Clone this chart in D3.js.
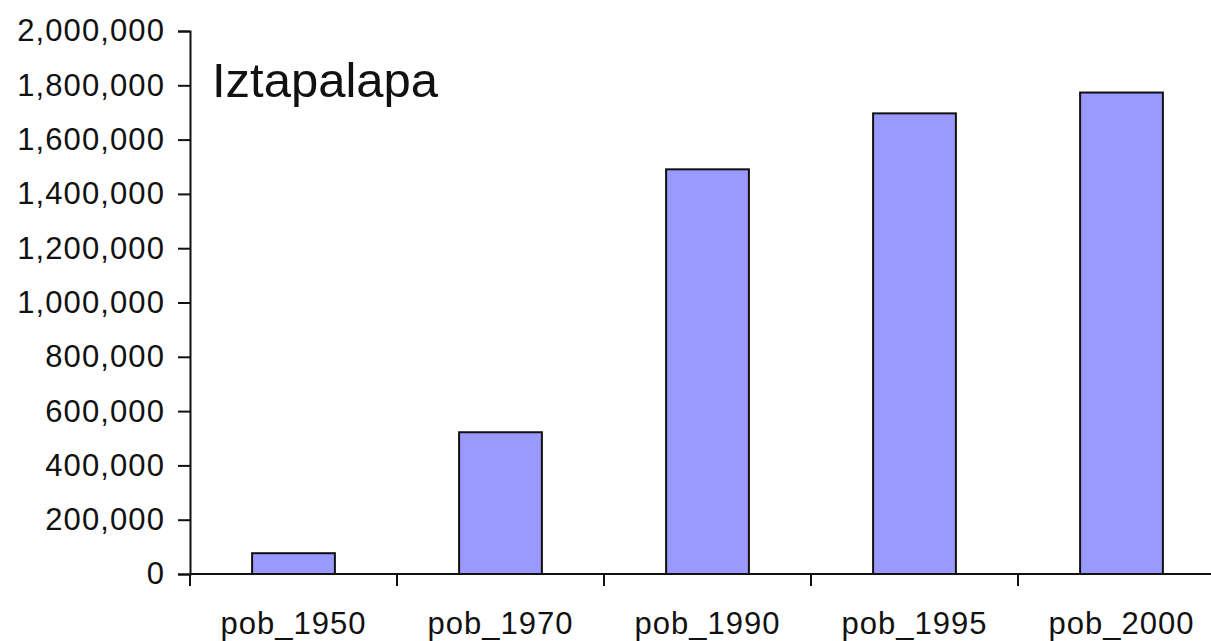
<!DOCTYPE html>
<html>
<head>
<meta charset="utf-8">
<script src="https://cdn.jsdelivr.net/npm/d3@7"></script>
<style>
  body { margin: 0; background: #fff; }
  svg { display: block; }
  text { font-family: "Liberation Sans", Arial, sans-serif; fill: #111; }
</style>
</head>
<body>
<div id="chart"></div>
<script>
const categories = ["pob_1950", "pob_1970", "pob_1990", "pob_1995", "pob_2000"];
const population = [76600, 522100, 1490500, 1696600, 1773300];
const yTicks = [0, 200000, 400000, 600000, 800000, 1000000, 1200000, 1400000, 1600000, 1800000, 2000000];
const title = "Iztapalapa";

const width = 1211;
const height = 641;

const svg = d3.select("#chart")
              .append("svg")
              .attr("width", width)
              .attr("height", height);

const x = d3.scaleBand()
            .domain(categories)
            .range([190, 1225])
            .paddingInner(0.6)
            .paddingOuter(0.3);

const y = d3.scaleLinear()
            .domain([0, 2000000])
            .range([574, 31]);

const fmt = d3.format(",");

// bars
svg.selectAll("rect.bar")
   .data(categories)
   .enter()
   .append("rect")
   .attr("class", "bar")
   .attr("x", d => x(d))
   .attr("y", (d, i) => y(population[i]))
   .attr("width", x.bandwidth())
   .attr("height", (d, i) => y(0) - y(population[i]))
   .attr("fill", "#9999ff")
   .attr("stroke", "#111")
   .attr("stroke-width", 2);

// y axis
const yAxis = svg.append("g")
                 .attr("transform", `translate(${x.range()[0]},0)`)
                 .call(d3.axisLeft(y).tickValues(yTicks).tickFormat(fmt).tickSize(12).tickPadding(13));
yAxis.select(".domain").attr("stroke", "#111").attr("stroke-width", 2);
yAxis.selectAll(".tick line").attr("stroke", "#111").attr("stroke-width", 2);
yAxis.selectAll(".tick text")
     .attr("font-size", 31)
     .attr("letter-spacing", 1.1)
     .attr("fill", "#111")
     .attr("font-family", "Liberation Sans, Arial, sans-serif");

// x axis: baseline, ticks at category boundaries, labels centred
const gap = (x.step() - x.bandwidth()) / 2;
const bounds = categories.map(c => x(c) - gap).concat([x(categories[categories.length - 1]) + x.bandwidth() + gap]);

svg.append("line")
   .attr("x1", x.range()[0])
   .attr("x2", x.range()[1])
   .attr("y1", y(0))
   .attr("y2", y(0))
   .attr("stroke", "#111")
   .attr("stroke-width", 2);

svg.selectAll("line.xtick")
   .data(bounds)
   .enter()
   .append("line")
   .attr("class", "xtick")
   .attr("x1", d => d)
   .attr("x2", d => d)
   .attr("y1", y(0))
   .attr("y2", y(0) + 12)
   .attr("stroke", "#111")
   .attr("stroke-width", 2);

svg.selectAll("text.xlabel")
   .data(categories)
   .enter()
   .append("text")
   .attr("class", "xlabel")
   .attr("x", d => x(d) + x.bandwidth() / 2)
   .attr("y", 634)
   .attr("text-anchor", "middle")
   .attr("font-size", 31)
   .attr("letter-spacing", 1)
   .text(d => d);

// title inside plot
svg.append("text")
   .attr("x", 212)
   .attr("y", 97)
   .attr("font-size", 49)
   .text(title);
</script>
</body>
</html>
